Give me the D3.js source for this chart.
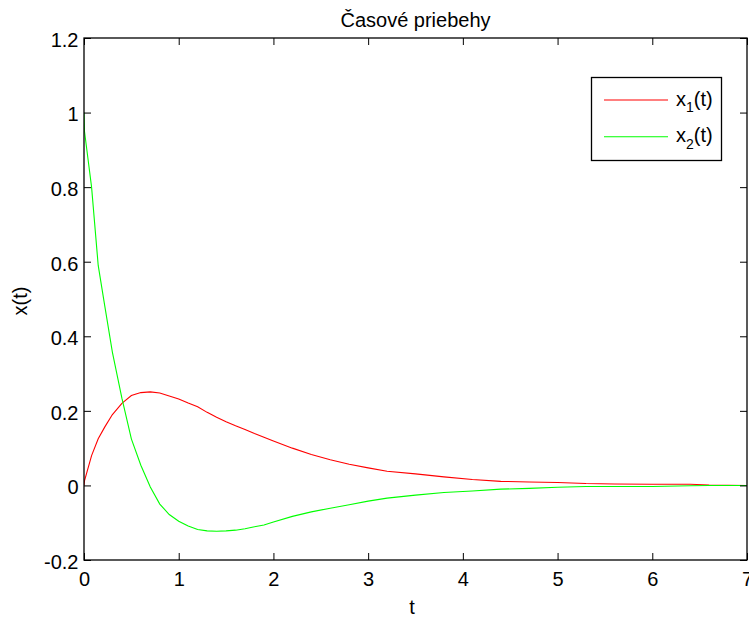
<!DOCTYPE html>
<html>
<head>
<meta charset="utf-8">
<script src="https://cdn.jsdelivr.net/npm/d3@7"></script>
<style>
  html, body { margin: 0; padding: 0; background: #fff; }
  svg { display: block; font-family: "Liberation Sans", Arial, Helvetica, sans-serif; }
</style>
</head>
<body>
<svg id="chart" width="749" height="618"></svg>
<script>
// ---- data ----
const tValues  = [0, 0.005, 0.08, 0.15, 0.22, 0.3, 0.4, 0.5, 0.6, 0.7, 0.8, 0.9, 1.0, 1.1, 1.2, 1.3, 1.4, 1.5, 1.6, 1.7, 1.8, 1.9, 2.0, 2.2, 2.4, 2.6, 2.8, 3.0, 3.2, 3.5, 3.8, 4.1, 4.4, 4.7, 5.0, 5.3, 5.6, 6.0, 6.4, 6.6, 7.0];
const x1Values = [0, 0.012, 0.08, 0.125, 0.157, 0.19, 0.22, 0.241, 0.249, 0.251, 0.248, 0.24, 0.232, 0.221, 0.211, 0.196, 0.183, 0.171, 0.16, 0.15, 0.139, 0.129, 0.119, 0.1, 0.083, 0.069, 0.057, 0.047, 0.038, 0.031, 0.023, 0.016, 0.011, 0.009, 0.008, 0.005, 0.004, 0.003, 0.003, 0.001, 0];
const x2Values = [1.0, 0.95, 0.80, 0.59, 0.48, 0.357, 0.234, 0.125, 0.054, -0.004, -0.05, -0.078, -0.096, -0.109, -0.118, -0.122, -0.123, -0.122, -0.12, -0.116, -0.111, -0.106, -0.098, -0.083, -0.071, -0.061, -0.052, -0.042, -0.034, -0.026, -0.019, -0.015, -0.01, -0.008, -0.005, -0.003, -0.003, -0.003, -0.001, 0, 0];
const seriesNames = ["x1(t)", "x2(t)"];
const seriesColors = ["#ff0000", "#00ff00"];
const xTickValues = [0, 1, 2, 3, 4, 5, 6, 7];
const yTickValues = [-0.2, 0, 0.2, 0.4, 0.6, 0.8, 1.0, 1.2];
const titleText = "Časové priebehy";
const xLabelText = "t";
const yLabelText = "x(t)";

(function () {
// ---- layout ----
const svg = d3.select("#chart");
const pL = 84, pR = 747, pT = 38, pB = 560;
const FS = 20;

const x = d3.scaleLinear().domain([0, 7]).range([pL, pR]);
const y = d3.scaleLinear().domain([-0.2, 1.2]).range([pB, pT]);
const fmt = d => String(+d.toFixed(1));

svg.append("rect").attr("x", 0).attr("y", 0).attr("width", 749).attr("height", 618).attr("fill", "#fff");

svg.append("clipPath").attr("id", "plotclip").append("rect")
  .attr("x", pL).attr("y", pT).attr("width", pR - pL).attr("height", pB - pT);

// series
const seriesValues = [x1Values, x2Values];
const line = d3.line().x(d => x(d[0])).y(d => y(d[1]));
seriesValues.forEach((vals, i) => {
  const pts = tValues.map((t, j) => [t, vals[j]]);
  svg.append("path")
    .attr("clip-path", "url(#plotclip)")
    .attr("d", line(pts))
    .attr("fill", "none")
    .attr("stroke", seriesColors[i])
    .attr("stroke-width", 1.1);
});

// axes (inward ticks)
const tick = 7;
const gB = svg.append("g").attr("transform", `translate(0,${pB})`)
  .call(d3.axisBottom(x).tickValues(xTickValues).tickFormat(fmt).tickSizeInner(-tick).tickSizeOuter(0).tickPadding(12));
const gT = svg.append("g").attr("transform", `translate(0,${pT})`)
  .call(d3.axisTop(x).tickValues(xTickValues).tickFormat("").tickSizeInner(-tick).tickSizeOuter(0));
const gL = svg.append("g").attr("transform", `translate(${pL},0)`)
  .call(d3.axisLeft(y).tickValues(yTickValues).tickFormat(fmt).tickSizeInner(-tick).tickSizeOuter(0).tickPadding(5.5));
const gR = svg.append("g").attr("transform", `translate(${pR},0)`)
  .call(d3.axisRight(y).tickValues(yTickValues).tickFormat("").tickSizeInner(-tick).tickSizeOuter(0));
[gB, gT, gL, gR].forEach(g => {
  g.select(".domain").remove();
  g.selectAll("line").attr("stroke", "#000").attr("stroke-width", 1);
  g.selectAll("text").attr("fill", "#000").style("font-size", FS + "px")
    .style("font-family", '"Liberation Sans", Arial, Helvetica, sans-serif');
});
gL.selectAll("text").attr("dy", "0.42em");

// box
svg.append("rect").attr("x", pL).attr("y", pT).attr("width", pR - pL).attr("height", pB - pT)
  .attr("fill", "none").attr("stroke", "#000").attr("stroke-width", 1.3);

// title & labels
svg.append("text").attr("x", (pL + pR) / 2).attr("y", 27).attr("text-anchor", "middle")
  .style("font-size", FS + "px").text(titleText);
svg.append("text").attr("x", 412).attr("y", 614).attr("text-anchor", "middle")
  .style("font-size", FS + "px").text(xLabelText);
svg.append("text").attr("transform", "translate(27,301) rotate(-90)").attr("text-anchor", "middle")
  .style("font-size", FS + "px").text(yLabelText);

// legend
const lg = svg.append("g");
lg.append("rect").attr("x", 591.5).attr("y", 77.5).attr("width", 130).attr("height", 83)
  .attr("fill", "#fff").attr("stroke", "#000").attr("stroke-width", 1.3);
const legendY = [100, 136.7];
seriesNames.forEach((name, i) => {
  lg.append("line").attr("x1", 604).attr("x2", 668).attr("y1", legendY[i]).attr("y2", legendY[i])
    .attr("stroke", seriesColors[i]).attr("stroke-width", 1.1);
  const txt = lg.append("text").attr("x", 676).attr("y", legendY[i] + 5.5).style("font-size", FS + "px");
  txt.append("tspan").text(name.charAt(0));
  txt.append("tspan").attr("dy", 6.5).style("font-size", "14px").text(name.charAt(1));
  txt.append("tspan").attr("dy", -6.5).text(name.slice(2));
});
})();
</script>
</body>
</html>
